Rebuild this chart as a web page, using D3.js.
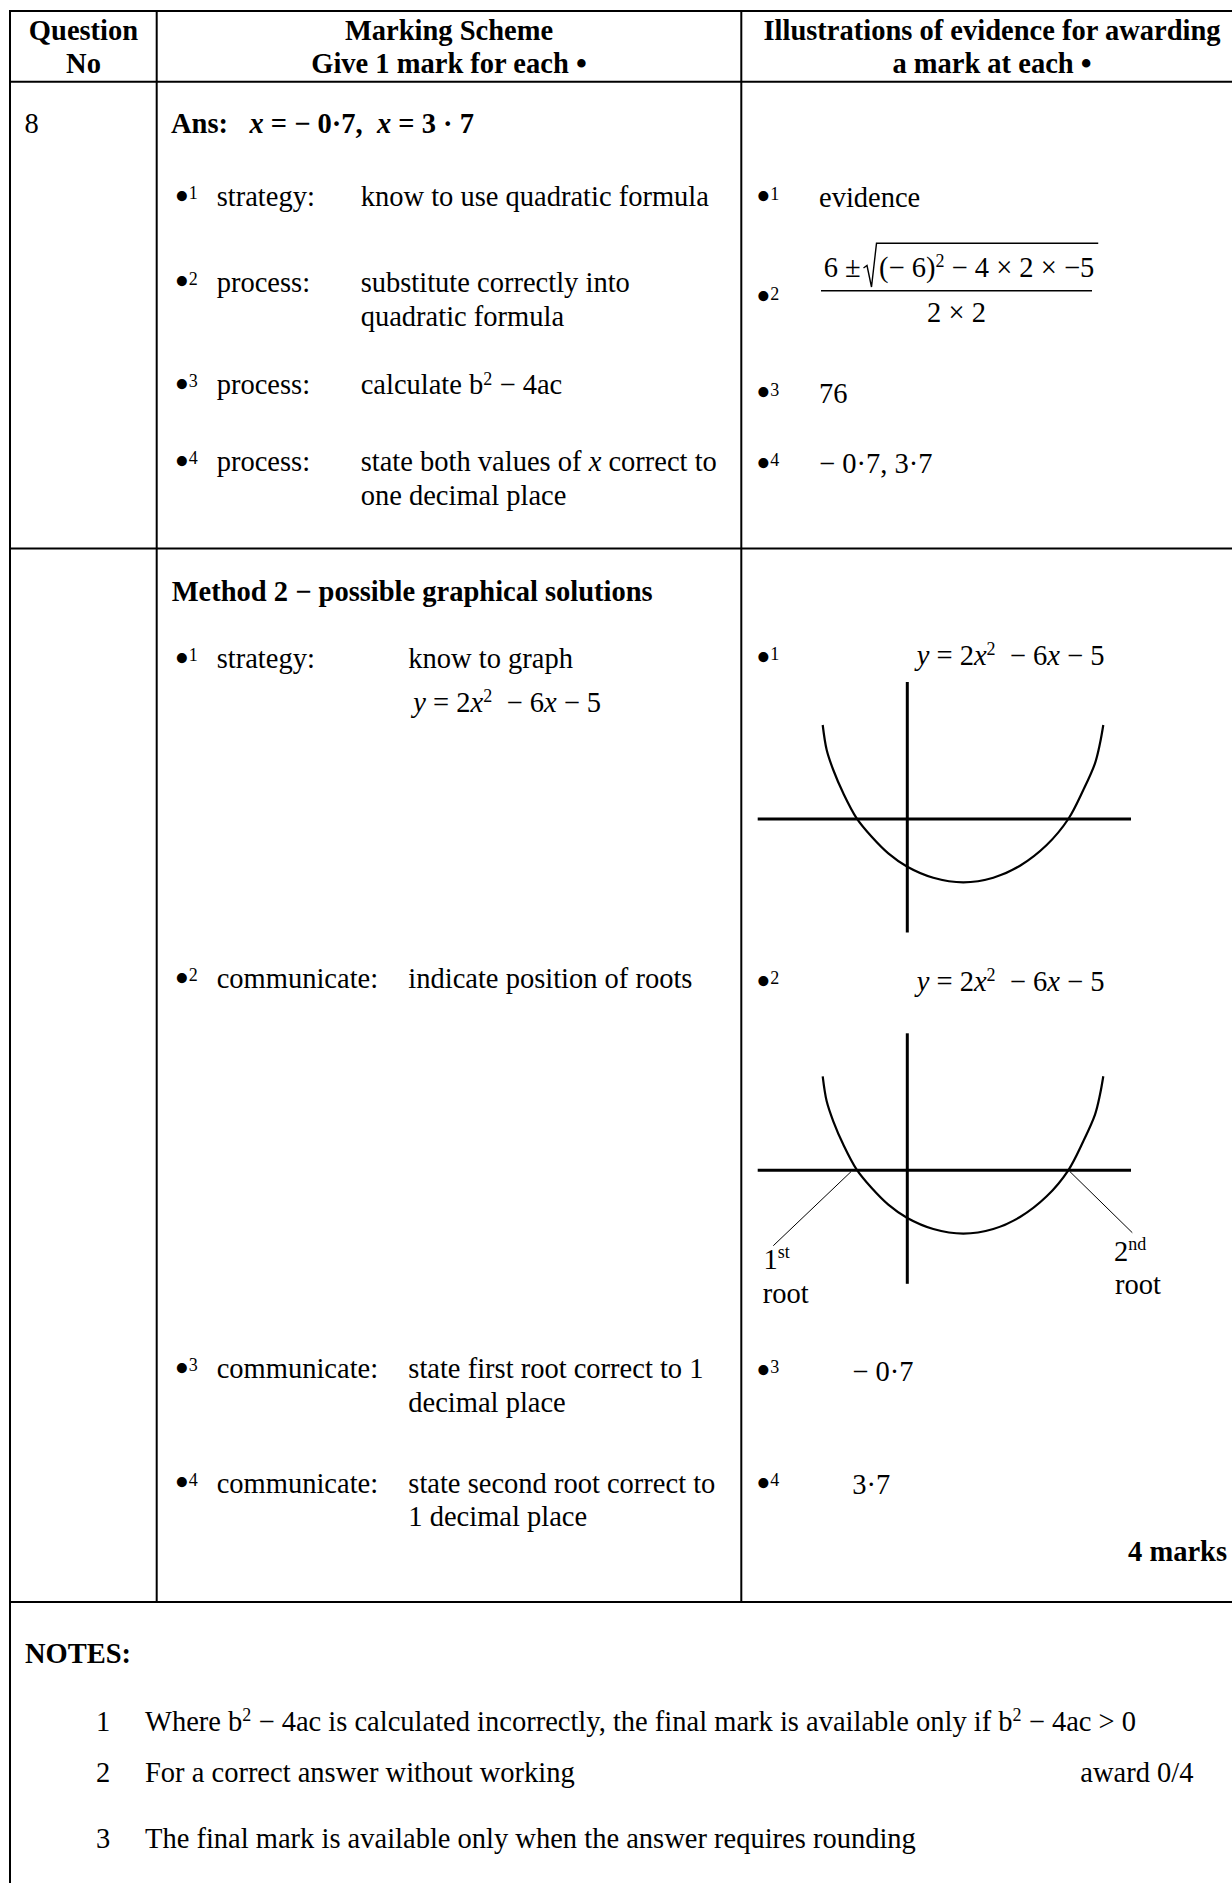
<!DOCTYPE html>
<html><head><meta charset="utf-8">
<script src="https://cdn.jsdelivr.net/npm/d3@7"></script>
<style>
html,body{margin:0;padding:0;background:#fff;}
svg{display:block;}
text{font-family:"Liberation Serif","Times New Roman",serif;font-size:28.5px;fill:#000;white-space:pre;}
</style></head><body>
<svg id="c" width="1232" height="1883"></svg>
<script>
// ---------------- DATA ----------------
const headerQuestion = ["Question", "No"];
const headerScheme = ["Marking Scheme", "Give 1 mark for each "];
const headerEvidence = ["Illustrations of evidence for awarding", "a mark at each "];
const bulletChar = "•";
const questionNumber = "8";
const answerParts = [{t:"Ans:   "},{t:"x",i:1},{t:" = − 0·7,  "},{t:"x",i:1},{t:" = 3 · 7"}];

const m1Kinds = ["strategy:", "process:", "process:", "process:"];
const m1Texts = [
  [[{t:"know to use quadratic formula"}]],
  [[{t:"substitute correctly into"}],[{t:"quadratic formula"}]],
  [[{t:"calculate b"},{t:"2",sup:1},{t:" − 4ac"}]],
  [[{t:"state both values of "},{t:"x",i:1},{t:" correct to"}],[{t:"one decimal place"}]]
];
const m1Evidence = [[{t:"evidence"}], null, [{t:"76"}], [{t:"− 0·7, 3·7"}]];
const fracLead = "6 ±";
const fracRadicand = [{t:"(− 6)"},{t:"2",sup:1},{t:" − 4 × 2 × −5"}];
const fracDen = "2 × 2";

const m2Title = "Method 2 − possible graphical solutions";
const m2Kinds = ["strategy:", "communicate:", "communicate:", "communicate:"];
const equationParts = [{t:"y",i:1},{t:" = 2"},{t:"x",i:1},{t:"2",sup:1},{t:"  − 6"},{t:"x",i:1},{t:" − 5"}];
const m2Texts = [
  [[{t:"know to graph"}], equationParts],
  [[{t:"indicate position of roots"}]],
  [[{t:"state first root correct to 1"}],[{t:"decimal place"}]],
  [[{t:"state second root correct to"}],[{t:"1 decimal place"}]]
];
const m2Evidence = [null, null, [{t:"− 0·7"}], [{t:"3·7"}]];
const marksLabel = "4 marks";

const notesTitle = "NOTES:";
const noteNums = ["1", "2", "3"];
const noteTexts = [
  [{t:"Where b"},{t:"2",sup:1},{t:" − 4ac is calculated incorrectly, the final mark is available only if b"},{t:"2",sup:1},{t:" − 4ac > 0"}],
  [{t:"For a correct answer without working"}],
  [{t:"The final mark is available only when the answer requires rounding"}]
];
const noteAwards = ["", "award 0/4", ""];

// sketch of y = 2x^2 - 6x - 5 (sketch units, origin at the axes crossing, v upward)
const curveU = [-84.6,-80.6,-74,-64,-50.6,-35.6,-19,0,26,56,86,112.7,139.4,161,176,187.7,192.7,196];
const curveV = [94,69,49,25.7,0.7,-17.7,-34.3,-47.7,-58.7,-63.3,-58.7,-46.7,-26,0,29,55.7,75.7,94];
const axisU = [-149.6, 223.7];
const axisV = [-113.5, 137];
const leaderFrom = [[-56.3,-1.4],[162.7,-1.4]];
const leaderTo = [[-134,-75.4],[225,-62.4]];
const rootLabelMain = ["1", "2"];
const rootLabelSup = ["st", "nd"];
const rootWord = "root";

// ---------------- DRAW ----------------
const svg = d3.select("#c");
const SUP = 18, SUPRAISE = 9.5;

function rich(g, x, y, segs, o = {}) {
  const t = g.append("text").attr("x", x).attr("y", y);
  if (o.anchor) t.attr("text-anchor", o.anchor);
  if (o.bold) t.attr("font-weight", "bold");
  let raised = 0;
  segs.forEach(s => {
    const sp = t.append("tspan").text(s.t);
    if (s.i) sp.attr("font-style", "italic");
    if (s.sup) { sp.attr("font-size", SUP).attr("dy", -SUPRAISE); raised = SUPRAISE; }
    else if (raised) { sp.attr("dy", raised); raised = 0; }
  });
  return t;
}
function bullet(g, x, y, n) {
  const t = g.append("text").attr("x", x).attr("y", y);
  t.append("tspan").attr("font-size", 42).attr("dy", 3.5).text(bulletChar);
  t.append("tspan").attr("font-size", SUP).attr("dy", -10.5).attr("dx", -0.5).text(n);
}

// table lines
const lines = svg.append("g").attr("stroke", "#000").attr("stroke-width", 2);
const hLines = [11, 81.7, 548.5, 1602];
const vLines = [[10, 11, 1883], [156.7, 11, 1602], [741.3, 11, 1602]];
hLines.forEach(y => lines.append("line").attr("x1", 9).attr("x2", 1232).attr("y1", y).attr("y2", y));
vLines.forEach(v => lines.append("line").attr("x1", v[0]).attr("x2", v[0]).attr("y1", v[1]).attr("y2", v[2]));

const T = svg.append("g");
// header
[[headerQuestion, 83.5, false], [headerScheme, 449, true], [headerEvidence, 992, true]].forEach(([h, cx, b]) => {
  T.append("text").attr("x", cx).attr("y", 39.5).attr("text-anchor", "middle").attr("font-weight", "bold").text(h[0]);
  const t2 = T.append("text").attr("x", cx).attr("y", 73).attr("text-anchor", "middle").attr("font-weight", "bold");
  t2.append("tspan").text(h[1]);
  if (b) t2.append("tspan").attr("font-size", 31).attr("dy", 1).text(bulletChar);
});

// row 1
T.append("text").attr("x", 24.5).attr("y", 133.3).text(questionNumber);
rich(T, 171, 133.3, answerParts, {bold: true});
const m1Base = [206, 291.7, 394, 471];
const m1EvBase = [206.7, 306.7, 402.5, 473];
m1Kinds.forEach((k, i) => {
  bullet(T, 174.5, m1Base[i], String(i + 1));
  T.append("text").attr("x", 216.7).attr("y", m1Base[i]).text(k);
  m1Texts[i].forEach((ln, j) => rich(T, 360.7, m1Base[i] + j * 34, ln));
  bullet(T, 756, m1EvBase[i], String(i + 1));
  if (m1Evidence[i]) rich(T, 819, m1EvBase[i], m1Evidence[i]);
});
// fraction
T.append("text").attr("x", 823.7).attr("y", 276.7).text(fracLead);
const rad = rich(T, 879, 276.7, fracRadicand);
const radLen = rad.node().getComputedTextLength();
const radEnd = 879 + radLen + 4;
svg.append("path").attr("fill", "none").attr("stroke", "#000").attr("stroke-width", 1.4)
  .attr("d", `M863.5,268 L867,265.5 L871.5,287 L876.5,243.3 L${radEnd},243.3`);
svg.append("line").attr("x1", 821).attr("x2", 1092).attr("y1", 290.7).attr("y2", 290.7)
  .attr("stroke", "#000").attr("stroke-width", 1.4);
T.append("text").attr("x", 956.5).attr("y", 321.7).attr("text-anchor", "middle").text(fracDen);

// row 2
T.append("text").attr("x", 171.7).attr("y", 600.7).attr("font-weight", "bold").text(m2Title);
const m2Base = [668.3, 988.3, 1378, 1492.5];
const m2LineGap = [43.4, 33.6, 33.6, 33.6];
const m2EvBase = [667, 991, 1380, 1493];
m2Kinds.forEach((k, i) => {
  bullet(T, 174.5, m2Base[i], String(i + 1));
  T.append("text").attr("x", 216.7).attr("y", m2Base[i]).text(k);
  m2Texts[i].forEach((ln, j) => rich(T, j === 1 && i === 0 ? 413.3 : 408.3, m2Base[i] + j * m2LineGap[i], ln));
  bullet(T, 756, m2EvBase[i], String(i + 1));
  if (m2Evidence[i]) rich(T, 852.3, m2EvBase[i] + 1, m2Evidence[i]);
});
T.append("text").attr("x", 1227).attr("y", 1561).attr("text-anchor", "end").attr("font-weight", "bold").text(marksLabel);

// sketches
const curvePts = curveU.map((u, i) => [u, curveV[i]]);
[[819, 664.6, false], [1170.3, 990.5, true]].forEach(([oy, eqY, roots]) => {
  const xS = d3.scaleLinear().domain([0, 100]).range([907.3, 1007.3]);
  const yS = d3.scaleLinear().domain([0, 100]).range([oy, oy - 100]);
  rich(T, 916.7, eqY, equationParts);
  const g = svg.append("g");
  g.append("line").attr("x1", xS(axisU[0])).attr("x2", xS(axisU[1])).attr("y1", yS(0)).attr("y2", yS(0))
    .attr("stroke", "#000").attr("stroke-width", 3);
  g.append("line").attr("x1", xS(0)).attr("x2", xS(0)).attr("y1", yS(axisV[0])).attr("y2", yS(axisV[1]))
    .attr("stroke", "#000").attr("stroke-width", 3);
  g.append("path").datum(curvePts).attr("fill", "none").attr("stroke", "#000").attr("stroke-width", 2.2)
    .attr("d", d3.line().x(d => xS(d[0])).y(d => yS(d[1])).curve(d3.curveCatmullRom));
  if (roots) {
    leaderFrom.forEach((f, i) => {
      g.append("line").attr("x1", xS(f[0])).attr("y1", yS(f[1])).attr("x2", xS(leaderTo[i][0])).attr("y2", yS(leaderTo[i][1]))
        .attr("stroke", "#000").attr("stroke-width", 1);
    });
    const lab = [[763.5, 1269.3, 762.7, 1303.3], [1114, 1261, 1115, 1294.3]];
    lab.forEach((p, i) => {
      const t = T.append("text").attr("x", p[0]).attr("y", p[1]);
      t.append("tspan").text(rootLabelMain[i]);
      t.append("tspan").attr("font-size", SUP).attr("dy", -11).text(rootLabelSup[i]);
      T.append("text").attr("x", p[2]).attr("y", p[3]).text(rootWord);
    });
  }
});

// notes
T.append("text").attr("x", 25).attr("y", 1663.3).attr("font-weight", "bold").text(notesTitle);
const noteBase = [1730.7, 1781.7, 1848.3];
noteNums.forEach((n, i) => {
  T.append("text").attr("x", 96).attr("y", noteBase[i]).text(n);
  rich(T, 145, noteBase[i], noteTexts[i]);
  if (noteAwards[i]) T.append("text").attr("x", 1080.3).attr("y", noteBase[i]).text(noteAwards[i]);
});
</script>
</body></html>
